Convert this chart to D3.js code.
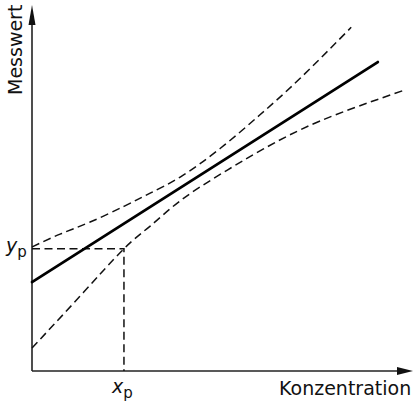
<!DOCTYPE html>
<html>
<head>
<meta charset="utf-8">
<script src="https://cdn.jsdelivr.net/npm/d3@7"></script>
<style>
  body { margin: 0; background: #fff; }
  text { font-family: "DejaVu Sans", sans-serif; fill: #111; }
</style>
</head>
<body>
<script>
// regression line and its confidence band (in arbitrary units)
var lineX = [0, 9.1];
var lineY = [2.43, 8.44];

var upperX = [0, 0.74, 1.53, 2.42, 3.11, 3.9, 4.95, 6.0, 7.05, 8.4];
var upperY = [3.39, 3.74, 4.07, 4.5, 4.86, 5.3, 6.08, 7.0, 7.99, 9.39];

var lowerX = [0, 1.26, 2.42, 3.11, 3.9, 4.95, 6.08, 7.58, 9.76];
var lowerY = [0.63, 2.04, 3.34, 3.96, 4.65, 5.37, 6.06, 6.83, 7.66];

var xp = 2.42, yp = 3.34;

var axisLabels = ["Konzentration", "Messwert"];

var width = 415, height = 403;

var svg = d3.select("body").append("svg")
    .attr("width", width)
    .attr("height", height);

var x = d3.scaleLinear().domain([0, 10]).range([32, 412]);
var y = d3.scaleLinear().domain([0, 10]).range([371, 5]);

function zip(xs, ys) {
    return xs.map(function(d, i) { return [d, ys[i]]; });
}

var line = d3.line()
    .x(function(d) { return x(d[0]); })
    .y(function(d) { return y(d[1]); });

var curve = d3.line()
    .x(function(d) { return x(d[0]); })
    .y(function(d) { return y(d[1]); })
    .curve(d3.curveNatural);

// axes
var x0 = x(0), y0 = y(0), xEnd = x.range()[1] + 1, yEnd = y.range()[1];

svg.append("line")
    .attr("x1", x0).attr("y1", y0)
    .attr("x2", xEnd - 10).attr("y2", y0)
    .attr("stroke", "#222").attr("stroke-width", 1.6);
svg.append("line")
    .attr("x1", x0).attr("y1", y0)
    .attr("x2", x0).attr("y2", yEnd + 12)
    .attr("stroke", "#222").attr("stroke-width", 1.6);

svg.append("path")
    .attr("d", "M" + xEnd + "," + y0 + "L" + (xEnd - 16) + "," + (y0 - 4) + "L" + (xEnd - 16) + "," + (y0 + 4) + "Z")
    .attr("fill", "#111");
svg.append("path")
    .attr("d", "M" + x0 + "," + yEnd + "L" + (x0 - 3.5) + "," + (yEnd + 20) + "L" + (x0 + 3.5) + "," + (yEnd + 20) + "Z")
    .attr("fill", "#111");

// reading lines for xp / yp
svg.append("path")
    .attr("d", line([[0, yp], [xp, yp], [xp, 0]]))
    .attr("fill", "none")
    .attr("stroke", "#111")
    .attr("stroke-width", 1.5)
    .attr("stroke-dasharray", "8,4.5");

// confidence band
svg.append("path")
    .attr("d", curve(zip(upperX, upperY)))
    .attr("fill", "none")
    .attr("stroke", "#111")
    .attr("stroke-width", 1.5)
    .attr("stroke-dasharray", "8,4.5");
svg.append("path")
    .attr("d", curve(zip(lowerX, lowerY)))
    .attr("fill", "none")
    .attr("stroke", "#111")
    .attr("stroke-width", 1.5)
    .attr("stroke-dasharray", "8,4.5");

// regression line
svg.append("path")
    .attr("d", line(zip(lineX, lineY)))
    .attr("fill", "none")
    .attr("stroke", "#000")
    .attr("stroke-width", 2.8)
    .attr("stroke-linecap", "round");

// labels
svg.append("text")
    .attr("x", 279).attr("y", 395)
    .style("font-size", "19px")
    .text(axisLabels[0]);

svg.append("text")
    .attr("transform", "translate(22,95) rotate(-90)")
    .style("font-size", "19px")
    .text(axisLabels[1]);

var yl = svg.append("text")
    .attr("x", 6).attr("y", y(yp) + 3)
    .style("font-size", "19px");
yl.append("tspan").style("font-style", "italic").text("y");
yl.append("tspan").attr("dy", 5).style("font-size", "15px").text("p");

var xl = svg.append("text")
    .attr("x", x(xp) - 12).attr("y", 393)
    .style("font-size", "19px");
xl.append("tspan").style("font-style", "italic").text("x");
xl.append("tspan").attr("dy", 5).style("font-size", "15px").text("p");
</script>
</body>
</html>
